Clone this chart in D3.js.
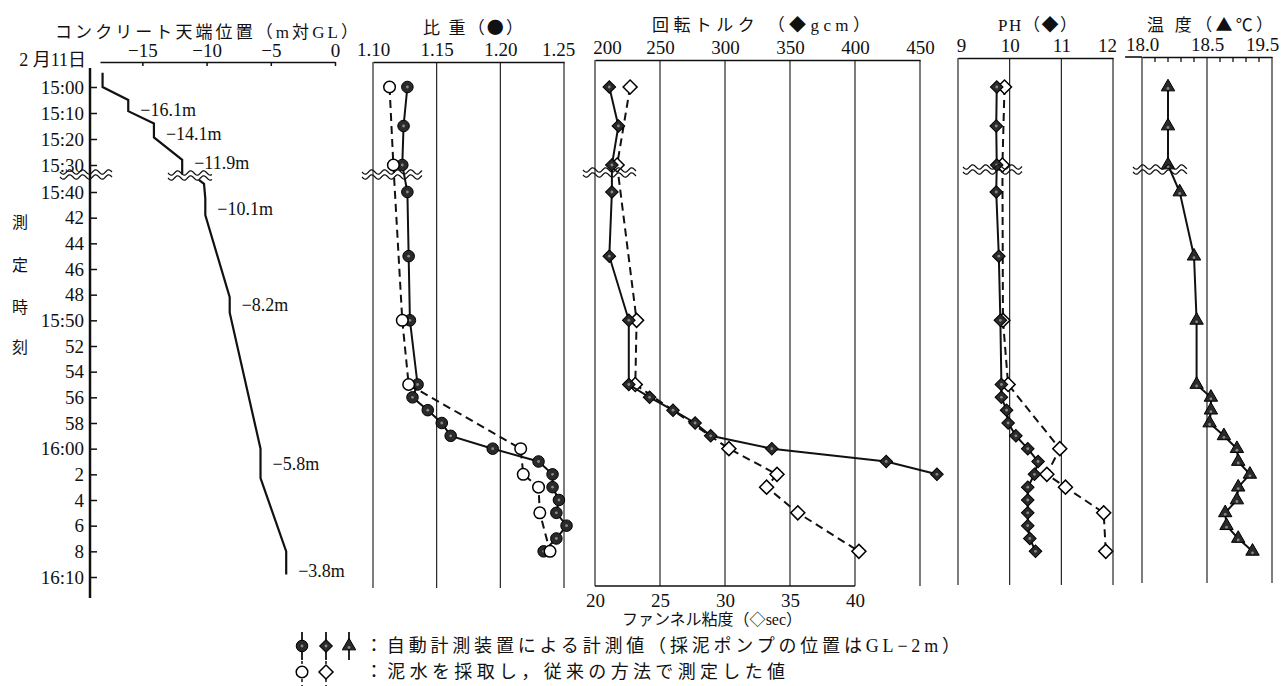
<!DOCTYPE html>
<html><head><meta charset="utf-8">
<script src="https://cdn.jsdelivr.net/npm/d3@7"></script>
<style>
body{margin:0;background:#fff}
svg text{font-family:"Liberation Serif","Noto Sans CJK JP",serif;fill:#111}
svg tspan.sym{font-family:"Noto Sans CJK JP",sans-serif}
</style></head><body>
<svg id="chart" width="1285" height="686"></svg>
<script>
// time is minutes after 15:00; the axis is broken between 15:30 and 15:40
const timeTicks = [0, 10, 20, 30, 40, 42, 44, 46, 48, 50, 52, 54, 56, 58, 60, 62, 64, 66, 68, 70];
const timeLabels = ['15:00', '15:10', '15:20', '15:30', '15:40', '42', '44', '46', '48', '15:50',
    '52', '54', '56', '58', '16:00', '2', '4', '6', '8', '16:10'];

// concrete top level (m vs GL)
const concMin = [-5.5, 0, 5, 9.3, 14, 19.4, 28, 33.5, null, 35.5, 37, 40.5, 41.8, 48.2, 49.4, 60, 62.3, 68, 69.8];
const concDepth = [-18.1, -18.1, -16.1, -16.1, -14.1, -14.1, -11.9, -11.9, null, -10.6, -10.2, -10.1, -10.1, -8.2, -8.2, -5.8, -5.8, -3.8, -3.8];
const concLabelMin = [9, 18, 29.3, 41.3, 48.8, 61.2, 69.5];
const concLabelDepth = [-16.1, -14.1, -11.9, -10.1, -8.2, -5.8, -3.8];

// automatic gauge readings
const autoMin = [0, 15, 30, 40, 45, 50, 55, 56, 57, 58, 59, 60, 61, 62, 63, 64, 65, 66, 67, 68];
const sgAuto = [1.127, 1.124, 1.123, 1.127, 1.128, 1.129, 1.135, 1.131, 1.143, 1.154, 1.161, 1.194,
    1.230, 1.241, 1.241, 1.246, 1.244, 1.252, 1.244, 1.234];
const torqueMin = [0, 15, 30, 40, 45, 50, 55, 56, 57, 58, 59, 60, 61, 62];
const torqueAuto = [211, 218, 213, 213, 211, 226, 226, 242, 260, 277, 289, 336, 424, 463];
const phAuto = [9.75, 9.74, 9.75, 9.74, 9.79, 9.82, 9.84, 9.84, 9.94, 9.97, 10.12, 10.35, 10.55, 10.48,
    10.35, 10.35, 10.35, 10.35, 10.39, 10.50];
const tempAuto = [18.20, 18.20, 18.20, 18.29, 18.40, 18.42, 18.42, 18.53, 18.53, 18.52, 18.63, 18.73,
    18.74, 18.83, 18.74, 18.73, 18.64, 18.65, 18.74, 18.85];

// sampled slurry, conventional method
const manMin = [0, 30, 50, 55, 60, 62, 63, 65, 68];
const sgMan = [1.113, 1.116, 1.123, 1.128, 1.216, 1.218, 1.230, 1.231, 1.239];
const funnelMan = [22.7, 21.7, 23.2, 23.1, 30.3, 34.0, 33.2, 35.6, 40.3];
const phMan = [9.90, 9.86, 9.87, 9.97, 10.97, 10.72, 11.08, 11.82, 11.86];

const concTicks = [-15, -10, -5, 0];
const sgTicks = [1.10, 1.15, 1.20, 1.25];
const torqueTicks = [200, 250, 300, 350, 400, 450];
const funnelTicks = [20, 25, 30, 35, 40];
const phTicks = [9, 10, 11, 12];
const tempTicks = [18.0, 18.5, 19.0];
const tempTickLabels = ['18.0', '18.5', '19.5'];
const tempMinor = [18.1, 18.2, 18.3, 18.4, 18.6, 18.7, 18.8, 18.9];

const svg = d3.select('#chart');
const INK = '#111';
const FILL = '#2a2a2a';

const yT = d3.scaleLinear().domain([0, 30, 40, 70]).range([87, 165, 192, 577]);

// ---- time axis
const gAx = svg.append('g').attr('transform', 'translate(90,0)')
    .call(d3.axisLeft(yT).tickValues(timeTicks).tickFormat((d, i) => timeLabels[i])
        .tickSizeInner(-7).tickSizeOuter(0).tickPadding(6));
gAx.select('.domain').remove();
gAx.selectAll('.tick line').attr('stroke', INK).attr('stroke-width', 1.5);
gAx.selectAll('.tick text').style('font-size', '19px').attr('fill', INK);
gAx.append('line').attr('y1', 68).attr('y2', 598).attr('stroke', INK).attr('stroke-width', 2.5);

svg.append('text').attr('x', 86).attr('y', 66).attr('text-anchor', 'end')
    .style('font-size', '18px').text('2 月11日');
['測', '定', '時', '刻'].forEach((c, i) => {
    svg.append('text').attr('x', 20).attr('y', [222, 265, 307, 347][i] + 6)
        .attr('text-anchor', 'middle').style('font-size', '16px').text(c);
});

// ---- concrete top level
const xc = d3.scaleLinear().domain([-18.3, 0]).range([100, 335]);
const gc = svg.append('g').attr('transform', 'translate(0,62)')
    .call(d3.axisTop(xc).tickValues(concTicks).tickSizeInner(-4).tickSizeOuter(0).tickPadding(5)
        .tickFormat(d => d === 0 ? '0' : '−' + Math.abs(d)));
gc.select('.domain').attr('stroke', INK).attr('stroke-width', 1.5);
gc.selectAll('.tick line').attr('stroke', INK).attr('stroke-width', 1.5);
gc.selectAll('.tick text').style('font-size', '19px').attr('fill', INK);

svg.append('path')
    .attr('d', d3.line().defined((d, i) => concDepth[i] != null)
        .x((d, i) => xc(concDepth[i])).y(d => yT(d))(concMin))
    .attr('fill', 'none').attr('stroke', INK).attr('stroke-width', 2.2);
svg.selectAll('text.conc').data(concLabelDepth).enter().append('text').attr('class', 'conc')
    .attr('x', d => xc(d) + 12).attr('y', (d, i) => yT(concLabelMin[i]) + 6)
    .style('font-size', '18px').text(d => '−' + Math.abs(d).toFixed(1) + 'm');

// titles: [before, symbol, after]
function title(parts, x0, x1, y) {
    const t = svg.append('text').attr('x', x0).attr('y', y + 6).attr('textLength', x1 - x0)
        .attr('lengthAdjust', 'spacing').style('font-size', '17px');
    t.append('tspan').text(parts[0]);
    if (parts[1]) t.append('tspan').attr('class', 'sym').text(parts[1]);
    if (parts[2]) t.append('tspan').text(parts[2]);
}
title(['コンクリート天端位置（m対GL）'], 55, 358, 32);
title(['比 重（', '●', '）'], 423, 523, 28);
title(['回転トルク （', '◆', 'gcm）'], 652, 870, 25);
title(['PH（', '◆', '）'], 998, 1077, 25);
title(['温 度（', '▲', '℃）'], 1147, 1273, 25);

// ---- panels with vertical grid
function panel(x, ticks, top, bottom, fmt, labelShift) {
    const g = svg.append('g');
    g.selectAll('line.grid').data(ticks).enter().append('line')
        .attr('x1', d => x(d)).attr('x2', d => x(d)).attr('y1', top).attr('y2', bottom)
        .attr('stroke', INK).attr('stroke-width', 1.1);
    const ax = g.append('g').attr('transform', `translate(0,${top})`)
        .call(d3.axisTop(x).tickValues(ticks).tickSize(0).tickPadding(6).tickFormat(fmt));
    ax.select('.domain').attr('stroke', INK).attr('stroke-width', 1.6);
    ax.selectAll('.tick text').style('font-size', '19px').attr('fill', INK)
        .attr('dx', (d, i) => (labelShift[i] || 0));
    return g;
}

const xSg = d3.scaleLinear().domain([1.10, 1.25]).range([373, 564]);
const xTq = d3.scaleLinear().domain([200, 450]).range([595, 920]);
const xFv = d3.scaleLinear().domain([20, 45]).range([595, 920]);
const xPh = d3.scaleLinear().domain([9, 12]).range([958, 1113]);
const xTp = d3.scaleLinear().domain([18.0, 19.0]).range([1142, 1272]);

const gSg = panel(xSg, sgTicks, 62, 588, d3.format('.2f'), [0, 0, 0, -6]);
const gTq = panel(xTq, torqueTicks, 60, 586, d3.format('d'), [12, 0, 0, 0, 0, 0]);
const gPh = panel(xPh, phTicks, 58, 585, d3.format('d'), [3, 0, 0, -6]);
const gTp = panel(xTp, tempTicks, 57, 583, (d, i) => tempTickLabels[i], [0, 0, -10]);

// temperature axis starts a little left of 18.0 and carries minor ticks
gTp.append('line').attr('x1', xTp(17.87)).attr('x2', xTp(18.0)).attr('y1', 57).attr('y2', 57)
    .attr('stroke', INK).attr('stroke-width', 1.6);
gTp.selectAll('line.minor').data(tempMinor).enter().append('line')
    .attr('x1', d => xTp(d)).attr('x2', d => xTp(d)).attr('y1', 57).attr('y2', 62)
    .attr('stroke', INK).attr('stroke-width', 1.3);

// funnel viscosity axis under the torque panel
const gFv = svg.append('g').attr('transform', 'translate(0,586)')
    .call(d3.axisBottom(xFv).tickValues(funnelTicks).tickSize(0).tickPadding(8).tickFormat(d3.format('d')));
gFv.select('.domain').attr('d', `M${xFv(20)},0H${xFv(40)}`).attr('stroke', INK).attr('stroke-width', 1.6);
gFv.selectAll('.tick text').style('font-size', '19px').attr('fill', INK);
const fvT = svg.append('text').attr('x', 712).attr('y', 625).attr('text-anchor', 'middle')
    .style('font-size', '16px');
fvT.append('tspan').text('ファンネル粘度（');
fvT.append('tspan').attr('class', 'sym').text('◇');
fvT.append('tspan').text('sec）');

// ---- markers and series
function marker(sel, kind) {
    const filled = !kind.startsWith('o');
    const base = kind.replace(/^o/, '');
    const type = base === 'dot' ? d3.symbolCircle : base === 'tri' ? d3.symbolTriangle : d3.symbolSquare;
    const size = base === 'dot' ? 105 : base === 'tri' ? 78 : (filled ? 80 : 98);
    sel.append('path').attr('d', d3.symbol(type, size)())
        .attr('transform', base === 'dia' ? 'rotate(45)' : null)
        .attr('fill', filled ? FILL : '#fff').attr('stroke', '#000').attr('stroke-width', filled ? 1 : 1.5);
    if (filled) sel.append('circle').attr('r', 1.4).attr('cy', base === 'tri' ? 1.5 : 0).attr('fill', '#8a8a8a');
}

function series(g, x, mins, vals, dashed, kind) {
    const pts = mins.map((m, i) => [x(vals[i]), yT(m)]);
    g.append('path').attr('d', d3.line()(pts)).attr('fill', 'none').attr('stroke', INK)
        .attr('stroke-width', 2).attr('stroke-dasharray', dashed ? '8,5' : null);
    g.selectAll(null).data(pts).enter().append('g')
        .attr('transform', d => `translate(${d[0]},${d[1]})`)
        .each(function () { marker(d3.select(this), kind); });
}

series(gSg, xSg, autoMin, sgAuto, false, 'dot');
series(gSg, xSg, manMin, sgMan, true, 'odot');
series(gTq, xFv, manMin, funnelMan, true, 'odia');
series(gTq, xTq, torqueMin, torqueAuto, false, 'dia');
series(gPh, xPh, manMin, phMan, true, 'odia');
series(gPh, xPh, autoMin, phAuto, false, 'dia');
series(gTp, xTp, autoMin, tempAuto, false, 'tri');

// ---- break marks (double wavy line)
const breaks = [[60, 112, 172], [168, 212, 173], [362, 422, 172], [583, 636, 170], [963, 1022, 167], [1133, 1187, 167]];
function wave(x0, x1, y) {
    const p = d3.path();
    for (let x = x0; x <= x1; x += 1) {
        const yy = y + 2.2 * Math.sin((x - x0) / 13 * 2 * Math.PI);
        if (x === x0) p.moveTo(x, yy); else p.lineTo(x, yy);
    }
    return p.toString();
}
breaks.forEach(b => {
    [0, 5].forEach(o => svg.append('path').attr('d', wave(b[0], b[1], b[2] + o))
        .attr('fill', 'none').attr('stroke', INK).attr('stroke-width', 1.2));
});

// ---- legend
const lg = svg.append('g');
const legRows = [646, 672];
[[302, 'dot'], [326, 'dia'], [349, 'tri']].forEach(s => {
    lg.append('line').attr('x1', s[0]).attr('x2', s[0]).attr('y1', 632).attr('y2', 660)
        .attr('stroke', INK).attr('stroke-width', 1.8);
    marker(lg.append('g').attr('transform', `translate(${s[0]},${legRows[0]})`), s[1]);
});
[[302, 'odot'], [326, 'odia']].forEach(s => {
    lg.append('line').attr('x1', s[0]).attr('x2', s[0]).attr('y1', 661).attr('y2', 686)
        .attr('stroke', INK).attr('stroke-width', 1.5).attr('stroke-dasharray', '3,3');
    marker(lg.append('g').attr('transform', `translate(${s[0]},${legRows[1]})`), s[1]);
});
lg.append('text').attr('x', 365).attr('y', legRows[0] + 6).attr('textLength', 595)
    .attr('lengthAdjust', 'spacing').style('font-size', '18px')
    .text('：自動計測装置による計測値（採泥ポンプの位置はGL−2m）');
lg.append('text').attr('x', 365).attr('y', legRows[1] + 6).attr('textLength', 420)
    .attr('lengthAdjust', 'spacing').style('font-size', '18px')
    .text('：泥水を採取し，従来の方法で測定した値');
</script></body></html>
